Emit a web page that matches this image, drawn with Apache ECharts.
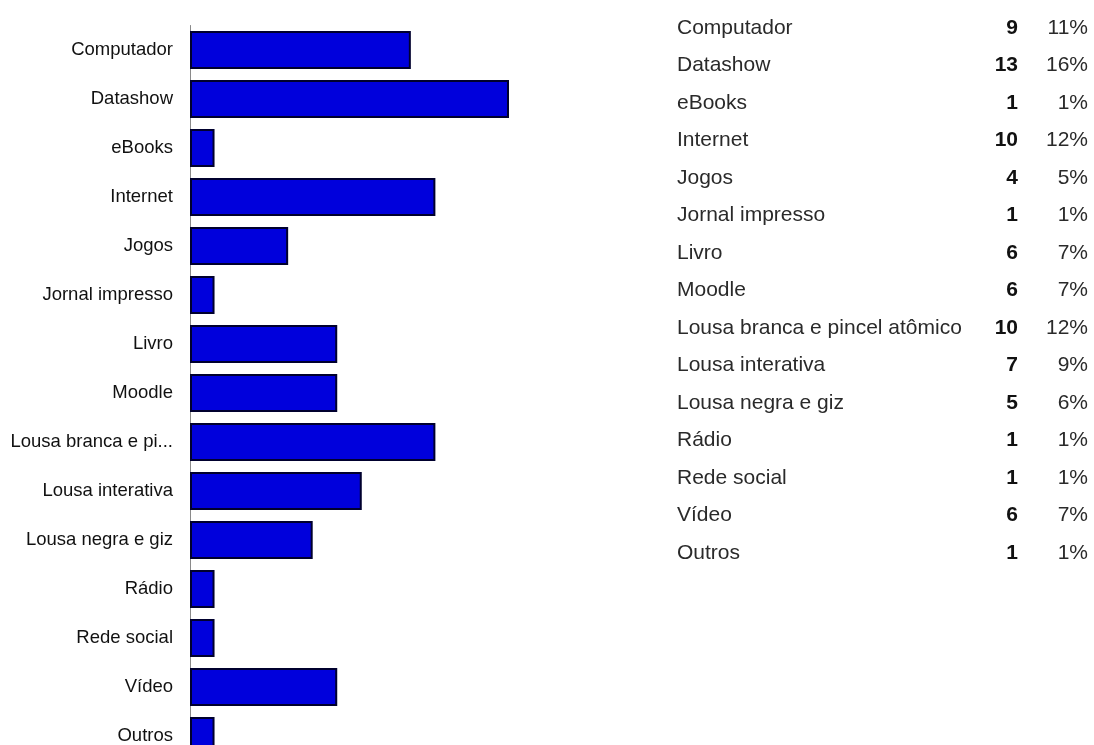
<!DOCTYPE html>
<html>
<head>
<meta charset="utf-8">
<script src="https://cdn.jsdelivr.net/npm/echarts@6/dist/echarts.min.js"></script>
<style>html,body{margin:0;padding:0;background:#fff;overflow:hidden}#c{width:1094px;height:780px}</style>
</head>
<body>
<div id="c"></div>
<script>
const categories = ["Computador","Datashow","eBooks","Internet","Jogos","Jornal impresso","Livro","Moodle","Lousa branca e pincel atômico","Lousa interativa","Lousa negra e giz","Rádio","Rede social","Vídeo","Outros"];
const counts = [9,13,1,10,4,1,6,6,10,7,5,1,1,6,1];
const percents = ["11%","16%","1%","12%","5%","1%","7%","7%","12%","9%","6%","1%","1%","7%","1%"];

const chart = echarts.init(document.getElementById('c'), null, {renderer:'canvas'});
const FONT = '"Liberation Sans", Arial, sans-serif';

function shortName(s){ return s.length > 20 ? s.slice(0,17) + '...' : s; }

const option = {
  animation: false,
  backgroundColor: '#ffffff',
  grid: [
    {left: 190, top: 25.5, width: 319, height: 735},
    {left: 677, top: 9, width: 411, height: 562.5}
  ],
  xAxis: [
    {gridIndex: 0, type: 'value', min: 0, max: 13, show: false},
    {gridIndex: 1, type: 'value', min: 0, max: 13, show: false}
  ],
  yAxis: [
    {
      gridIndex: 0, type: 'category', data: categories, inverse: true,
      axisLine: {show: true, lineStyle: {color: '#8a8a8a', width: 1}},
      axisTick: {show: false},
      splitLine: {show: false},
      axisLabel: {
        margin: 17, color: '#111', fontSize: 18.5, fontFamily: FONT,
        formatter: v => shortName(v)
      }
    },
    {
      gridIndex: 1, type: 'category', data: categories, inverse: true,
      axisLine: {show: false}, axisTick: {show: false}, splitLine: {show: false},
      axisLabel: {
        inside: true, margin: 0, align: 'left',
        formatter: (v, i) => '{n|' + v + '}{c|' + counts[i] + '}{p|' + percents[i] + '}',
        rich: {
          n: {width: 300, align: 'left', color: '#2a2a2a', fontSize: 21, fontFamily: FONT},
          c: {width: 41, align: 'right', color: '#111', fontSize: 21, fontWeight: 'bold', fontFamily: FONT},
          p: {width: 70, align: 'right', color: '#2a2a2a', fontSize: 21, fontFamily: FONT}
        }
      }
    }
  ],
  series: [
    {
      type: 'bar', xAxisIndex: 0, yAxisIndex: 0, data: counts,
      barWidth: 38,
      itemStyle: {color: '#0000dc', borderColor: '#00002e', borderWidth: 2}
    },
    {
      type: 'bar', xAxisIndex: 1, yAxisIndex: 1, data: counts, silent: true,
      itemStyle: {color: 'rgba(0,0,0,0)'}
    }
  ]
};
chart.setOption(option);
</script>
</body>
</html>
